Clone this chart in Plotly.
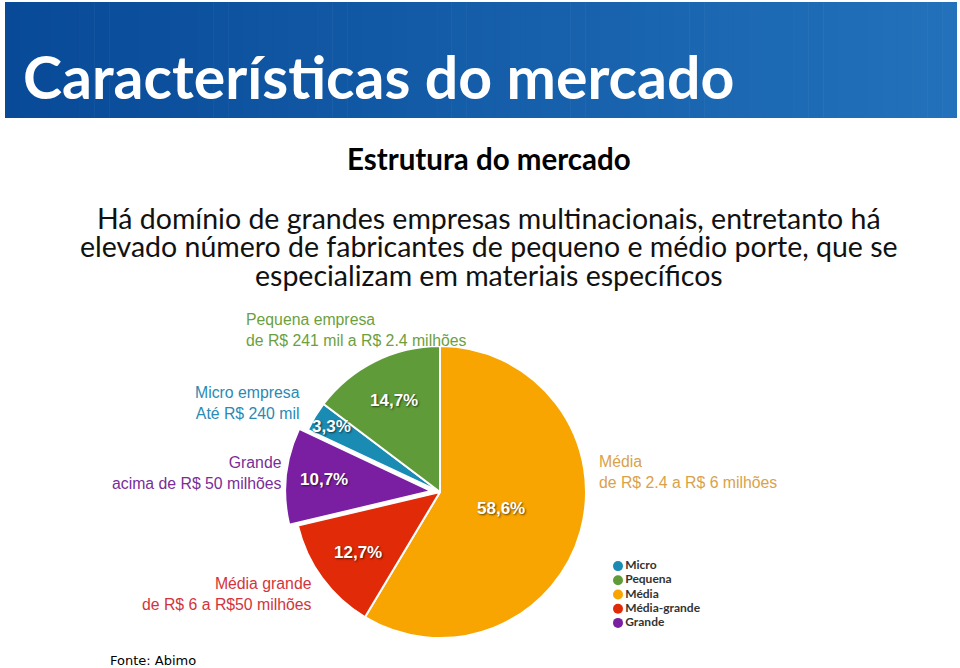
import math
import plotly.graph_objects as go

# ---------------- data ----------------
slice_labels = ["Média", "Média-grande", "Grande", "Micro", "Pequena"]
slice_values = [58.6, 12.7, 10.7, 3.3, 14.7]
slice_text = ["58,6%", "12,7%", "10,7%", "3,3%", "14,7%"]
slice_colors = ["#f8a502", "#e02a08", "#7b1fa2", "#1a8bb3", "#5f9b38"]
slice_pull = [0, 0, 0.06, 0, 0]
label_radius = [0.43, 0.70, 0.74, 0.87, 0.70]   # style: where value text sits

legend_labels = ["Micro", "Pequena", "Média", "Média-grande", "Grande"]
legend_colors = ["#1a8bb3", "#5f9b38", "#f8a502", "#e02a08", "#7b1fa2"]

outer_labels = [
    ("Pequena empresa<br>de R$ 241 mil a R$ 2.4 milhões", "#6c9f3e", "left", 244, 330),
    ("Micro empresa<br>Até R$ 240 mil", "#2a8ab4", "right", 302, 403),
    ("Grande<br>acima de R$ 50 milhões", "#7a2d98", "right", 284, 473),
    ("Média<br>de R$ 2.4 a R$ 6 milhões", "#d9a24a", "left", 597, 472),
    ("Média grande<br>de R$ 6 a R$50 milhões", "#d3343c", "right", 314, 594),
]

W, H = 960, 668
CX, CY, R = 440, 492, 146

fig = go.Figure()

# ---------------- pie ----------------
half = R * (1 + max(slice_pull))
fig.add_trace(go.Pie(
    labels=slice_labels, values=slice_values, sort=False,
    direction="clockwise", rotation=0, pull=slice_pull,
    marker=dict(colors=slice_colors, line=dict(color="white", width=2)),
    textinfo="none", hoverinfo="skip", showlegend=False,
    domain=dict(x=[(CX - half) / W, (CX + half) / W],
                y=[1 - (CY + half) / H, 1 - (CY - half) / H]),
))

# value labels derived from the data (angle of each slice's middle)
total = sum(slice_values)
cum = 0.0
for v, t, k, p in zip(slice_values, slice_text, label_radius, slice_pull):
    mid = (cum + v / 2) / total * 2 * math.pi
    cum += v
    rr = (k + p) * R
    px = CX + rr * math.sin(mid)
    py = CY - rr * math.cos(mid)
    fig.add_annotation(x=px / W, y=1 - py / H, xref="paper", yref="paper",
                       xanchor="center", yanchor="middle",
                       text=t, showarrow=False,
                       font=dict(family="Liberation Sans", size=17, color="white",
                                 weight="bold", shadow="1px 1px 2px rgba(0,0,0,0.6)"))

# ---------------- legend as scatter ----------------
fig.add_trace(go.Scatter(
    x=[6] * len(legend_labels), y=list(range(len(legend_labels))),
    mode="markers+text", text=legend_labels, textposition="middle right",
    marker=dict(color=legend_colors, size=10),
    textfont=dict(family="Lato", size=12, color="#333333", weight="bold"),
    hoverinfo="skip", showlegend=False, cliponaxis=False,
))
fig.update_xaxes(visible=False, range=[0, 100], domain=[612 / W, 712 / W], fixedrange=True)
fig.update_yaxes(visible=False, range=[4.5, -0.5], domain=[1 - 630 / H, 1 - 559 / H], fixedrange=True)

# ---------------- outer category labels ----------------
for txt, col, al, x, y in outer_labels:
    fig.add_annotation(x=x / W, y=1 - y / H, xref="paper", yref="paper",
                       xanchor=al, yanchor="middle", align=al, text=txt,
                       showarrow=False,
                       font=dict(family="Liberation Sans", size=15.8, color=col))

# ---------------- header ----------------
c0 = (8, 74, 152)
c1 = (34, 113, 186)
N = 64
x0, x1, y0, y1 = 5, 957, 2, 118
for i in range(N):
    f = i / (N - 1)
    c = tuple(round(a + (b - a) * f) for a, b in zip(c0, c1))
    xa = x0 + (x1 - x0) * i / N
    xb = x0 + (x1 - x0) * (i + 1) / N + 0.6
    fig.add_shape(type="rect", xref="paper", yref="paper",
                  x0=xa / W, x1=min(xb, x1) / W, y0=1 - y1 / H, y1=1 - y0 / H,
                  line=dict(width=0), fillcolor="rgb(%d,%d,%d)" % c, layer="below")

fig.add_annotation(x=21 / W, y=1 - 76 / H, xref="paper", yref="paper",
                   xanchor="left", yanchor="middle", showarrow=False,
                   text="Características do mercado",
                   font=dict(family="Lato", size=59, color="white", weight="bold"))

fig.add_annotation(x=489 / W, y=1 - 158 / H, xref="paper", yref="paper",
                   xanchor="center", yanchor="middle", showarrow=False,
                   text="Estrutura do mercado",
                   font=dict(family="Lato", size=29.5, color="black", weight="bold"))

para = [
    "Há domínio de grandes empresas multinacionais, entretanto há",
    "elevado número de fabricantes de pequeno e médio porte, que se",
    "especializam em materiais específicos",
]
para_y = [218, 246, 275]
for line, yy in zip(para, para_y):
    fig.add_annotation(x=489 / W, y=1 - yy / H, xref="paper", yref="paper",
                       xanchor="center", yanchor="middle", showarrow=False,
                       text=line,
                       font=dict(family="Lato", size=28.5, color="#111111"))

fig.add_annotation(x=108 / W, y=1 - 660 / H, xref="paper", yref="paper",
                   xanchor="left", yanchor="middle", showarrow=False,
                   text="Fonte: Abimo",
                   font=dict(family="DejaVu Sans", size=13, color="black"))

fig.update_layout(width=W, height=H, margin=dict(l=0, r=0, t=0, b=0),
                  paper_bgcolor="white", plot_bgcolor="rgba(0,0,0,0)",
                  showlegend=False)

fig.write_html("out.html", config={"displayModeBar": False},
               post_script="document.body.style.margin='0px';document.body.style.overflow='hidden';")
